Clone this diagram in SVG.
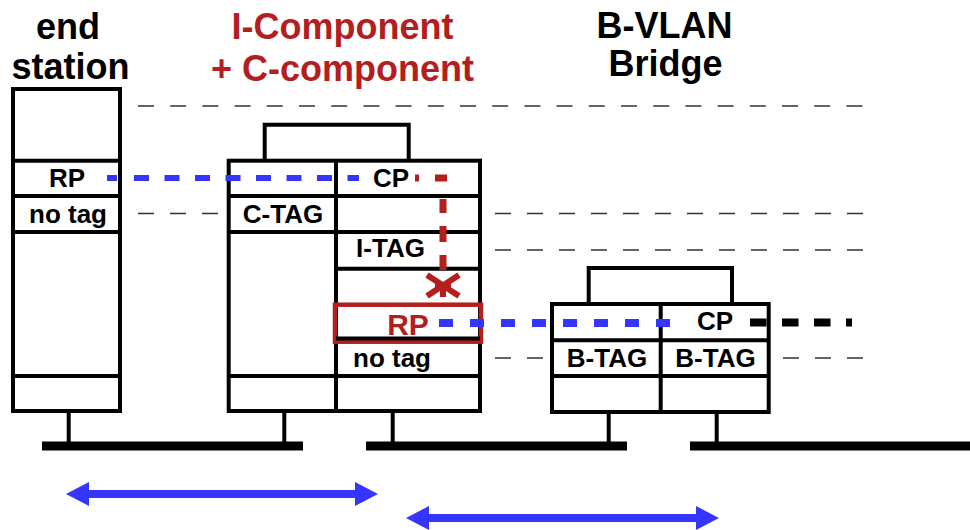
<svg xmlns="http://www.w3.org/2000/svg" width="970" height="530" viewBox="0 0 970 530">
<style>
.box{fill:none;stroke:#000;stroke-width:4}
.ln{stroke:#000;stroke-width:4;fill:none}
.bus{stroke:#000;stroke-width:9}
.thin{stroke:#333;stroke-width:1.6;fill:none}
.t{font-family:"Liberation Sans",Arial,sans-serif;font-weight:bold;font-size:26px;text-anchor:middle;fill:#000}
.h{font-size:36px}
.red{fill:#B41E1E}
.blue{stroke:#3535FF;fill:none}
.redl{stroke:#B41E1E;fill:none}
</style>
<defs>
<marker id="ah" viewBox="0 0 23 24" refX="0" refY="12" markerWidth="23" markerHeight="24" markerUnits="userSpaceOnUse" orient="auto-start-reverse">
<path d="M0 0L23 12L0 24Z" fill="#3535FF"/>
</marker>
</defs>
<rect width="970" height="530" fill="#fff"/>

<g id="titles">
<text class="t h" x="68" y="39">end</text>
<text class="t h" x="70.5" y="79">station</text>
<text class="t h red" x="342.5" y="39">I-Component</text>
<text class="t h red" x="342.5" y="81">+ C-component</text>
<text class="t h" x="664.5" y="38">B-VLAN</text>
<text class="t h" x="665.5" y="76">Bridge</text>
</g>

<g id="lans">
<line class="bus" x1="42" y1="446" x2="303" y2="446"/>
<line class="bus" x1="366" y1="446" x2="627" y2="446"/>
<line class="bus" x1="690" y1="446" x2="970" y2="446"/>
</g>

<g id="end-station">
<rect class="box" x="13" y="89" width="107" height="322"/>
<path class="ln" d="M13 160.7H120M13 196H120M13 232H120M13 376H120M68.7 411V446"/>
<text class="t" x="67" y="187">RP</text>
<text class="t" x="68" y="223">no tag</text>
</g>

<g id="i-component">
<path class="ln" d="M264.7 160.7V124.7H408.7V160.7"/>
<rect class="box" x="228.7" y="160.7" width="251.3" height="250.3"/>
<path class="ln" d="M336 160.7V411M228.7 196H480M228.7 232H480M336 268.7H480M228.7 376H480M284.3 411V446M392.7 411V446"/>
<rect x="335" y="304.7" width="146" height="37" fill="none" stroke="#B41E1E" stroke-width="4.5"/>
<path class="ln" d="M336 338.5H480"/>
<text class="t" x="283" y="223">C-TAG</text>
<text class="t" x="391" y="187">CP</text>
<text class="t" x="390.5" y="257">I-TAG</text>
<text class="t red" x="408" y="335" style="font-size:30px">RP</text>
<text class="t" x="392" y="367">no tag</text>
</g>

<g id="b-vlan-bridge">
<path class="ln" d="M588.7 304V268H732V304"/>
<rect class="box" x="552" y="304" width="216.7" height="108"/>
<path class="ln" d="M660.7 304V412M552 340.3H768.7M552 376H768.7M608.7 412V446M716.7 412V446"/>
<text class="t" x="715" y="330">CP</text>
<text class="t" x="607" y="367">B-TAG</text>
<text class="t" x="715.5" y="367">B-TAG</text>
</g>

<g id="connectors">
<line class="thin" x1="138" y1="106" x2="863" y2="106" stroke-dasharray="16 16.2"/>
<line class="thin" x1="138" y1="213.5" x2="219" y2="213.5" stroke-dasharray="16 16"/>
<line class="thin" x1="495" y1="213.5" x2="863" y2="213.5" stroke-dasharray="16 16"/>
<line class="thin" x1="495" y1="250" x2="863" y2="250" stroke-dasharray="16 16"/>
<line class="thin" x1="495" y1="358" x2="545" y2="358" stroke-dasharray="16 16"/>
<line class="thin" x1="783" y1="358" x2="863" y2="358" stroke-dasharray="16 16"/>

<line class="blue" x1="107" y1="178" x2="117" y2="178" stroke-width="6"/>
<line class="blue" x1="134" y1="178" x2="359" y2="178" stroke-width="6" stroke-dasharray="15 15.5"/>
<path class="redl" stroke-width="7" d="M415 178H419M435 178H447M443 199V213M443 226V242M443 255V270"/>
<path class="redl" stroke-width="6" d="M427 275L459 296M459 275L427 296M443 285.5V297M435 285.5H451"/>
<line class="blue" x1="439" y1="323" x2="671" y2="323" stroke-width="8" stroke-dasharray="14 17"/>
<line x1="750" y1="322.5" x2="852" y2="322.5" stroke="#000" stroke-width="8" stroke-dasharray="16.5 15.5"/>

<line class="blue" x1="89" y1="494" x2="355" y2="494" stroke-width="8" marker-start="url(#ah)" marker-end="url(#ah)"/>
<line class="blue" x1="429" y1="518" x2="696" y2="518" stroke-width="8" marker-start="url(#ah)" marker-end="url(#ah)"/>
</g>
</svg>
